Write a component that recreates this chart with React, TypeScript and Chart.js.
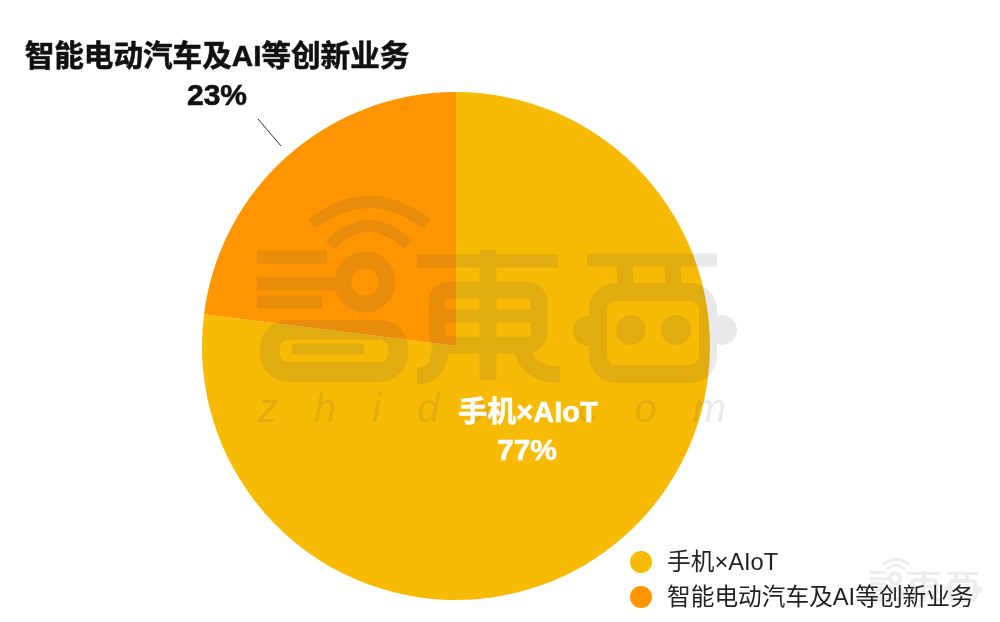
import React, { useEffect, useRef } from "react";
import { Chart, registerables, Plugin } from "chart.js";

Chart.register(...registerables);

const categories = ["手机×AIoT", "智能电动汽车及AI等创新业务"];
const shares = [77, 23];
const sliceColors = ["#F7BA05", "#FF9500"];

const FONT = '"Liberation Sans", "Noto Sans CJK SC", sans-serif';

// 智东西 logo, drawn opaque on its own layer so overlapping strokes don't get darker
function drawLogo(c: CanvasRenderingContext2D) {
  c.strokeStyle = "#4a4f58";
  c.fillStyle = "#4a4f58";
  c.lineJoin = "round";

  const line = (w: number, pts: number[][]) => {
    c.lineWidth = w;
    c.beginPath();
    pts.forEach((p, i) => (i ? c.lineTo(p[0], p[1]) : c.moveTo(p[0], p[1])));
    c.stroke();
  };
  const box = (w: number, x: number, y: number, bw: number, bh: number, r: number) => {
    c.lineWidth = w;
    c.beginPath();
    c.roundRect(x, y, bw, bh, r);
    c.stroke();
  };
  const dot = (x: number, y: number, r: number) => {
    c.beginPath();
    c.arc(x, y, r, 0, Math.PI * 2);
    c.fill();
  };
  const curve = (w: number, x0: number, y0: number, cx: number, cy: number, x1: number, y1: number) => {
    c.lineWidth = w;
    c.beginPath();
    c.moveTo(x0, y0);
    c.quadraticCurveTo(cx, cy, x1, y1);
    c.stroke();
  };

  c.lineCap = "butt";

  // left glyph
  curve(12, 312, 224, 369, 180, 427, 224);
  curve(12, 330, 245, 369, 207, 408, 245);
  c.lineWidth = 17;
  c.beginPath();
  c.arc(365, 282, 22, 0, Math.PI * 2);
  c.stroke();
  line(13, [[257, 257], [327, 257]]);
  line(13, [[257, 284], [340, 284]]);
  line(13, [[257, 302], [322, 302]]);
  box(20, 270, 330, 128, 42, 18);
  line(11, [[292, 349], [364, 349]]);

  // middle glyph
  line(13, [[417, 261], [558, 261]]);
  line(17, [[488, 250], [488, 380]]);
  box(17, 437, 290, 102, 55, 12);
  line(13, [[437, 316], [539, 316]]);
  curve(17, 440, 347, 440, 376, 417, 376);
  curve(17, 522, 347, 526, 374, 560, 375);

  // right glyph
  line(13, [[587, 260], [717, 260]]);
  line(16, [[625, 262], [625, 296]]);
  line(16, [[673, 262], [673, 296]]);
  box(18, 598, 292, 110, 82, 18);
  dot(631, 330, 15);
  dot(676, 330, 15);
  dot(588, 331, 15);
  dot(722, 330, 15);
}

const annotations: Plugin<"pie"> = {
  id: "annotations",
  afterDatasetsDraw(chart) {
    const { ctx } = chart;

    // big watermark
    const layer = document.createElement("canvas");
    layer.width = 1000;
    layer.height = 622;
    const c = layer.getContext("2d")!;
    drawLogo(c);
    c.font = `italic 40px ${FONT}`;
    c.textAlign = "left";
    c.textBaseline = "middle";
    (c as any).letterSpacing = "36px";
    c.fillText("zhidx.com", 258, 411);

    ctx.save();
    ctx.globalAlpha = 0.12;
    ctx.drawImage(layer, 0, 0);
    // small one, bottom right
    ctx.globalAlpha = 0.1;
    ctx.drawImage(layer, 250, 195, 490, 200, 868, 558, 115, 47);
    ctx.globalAlpha = 1;

    // callout line
    ctx.strokeStyle = "#333";
    ctx.lineWidth = 1;
    ctx.beginPath();
    ctx.moveTo(258, 119);
    ctx.lineTo(281, 146);
    ctx.stroke();

    // data labels, with a hairline stroke because the originals are heavier than plain bold
    const heavy = (text: string, x: number, y: number, color: string, size: number) => {
      ctx.font = `bold ${size}px ${FONT}`;
      ctx.fillStyle = color;
      ctx.strokeStyle = color;
      ctx.lineWidth = 0.6;
      ctx.fillText(text, x, y);
      ctx.strokeText(text, x, y);
    };
    ctx.textAlign = "center";
    ctx.textBaseline = "middle";
    heavy(categories[1], 217, 58, "#111", 29.6);
    heavy(`${shares[1]}%`, 217, 97, "#111", 30);
    heavy(categories[0], 528, 414, "#fff", 29);
    heavy(`${shares[0]}%`, 527, 452, "#fff", 30);

    // legend
    ctx.textAlign = "left";
    ctx.font = `23.7px ${FONT}`;
    categories.forEach((name, i) => {
      const y = 562 + i * 35;
      ctx.fillStyle = sliceColors[i];
      ctx.beginPath();
      ctx.arc(641, y, 11, 0, Math.PI * 2);
      ctx.fill();
      ctx.fillStyle = "#222";
      ctx.fillText(name, 667, y + 1);
    });
    ctx.restore();
  },
};

export default function App() {
  const chartRef = useRef<HTMLCanvasElement | null>(null);

  useEffect(() => {
    if (!chartRef.current) return;
    const chart = new Chart(chartRef.current, {
      type: "pie",
      data: {
        labels: categories,
        datasets: [{ data: shares, backgroundColor: sliceColors, borderWidth: 0 }],
      },
      options: {
        animation: false,
        responsive: false,
        devicePixelRatio: 1,
        layout: { padding: { top: 92, bottom: 22, left: 0, right: 88 } },
        plugins: {
          legend: { display: false },
          tooltip: { enabled: false },
        },
      },
      plugins: [annotations],
    });
    return () => chart.destroy();
  }, []);

  return (
    <div style={{ position: "fixed", left: 0, top: 0, width: 1000, height: 622, background: "#fff" }}>
      <canvas ref={chartRef} width={1000} height={622} style={{ display: "block" }} />
    </div>
  );
}
